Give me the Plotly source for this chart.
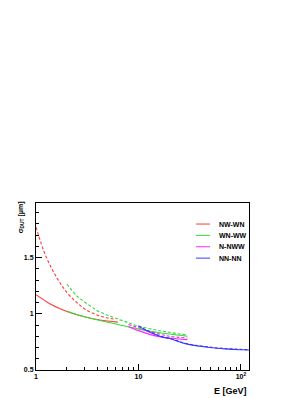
import plotly.graph_objects as go

# Data
nwwn_E = [1, 1.35, 1.7, 2, 2.7, 4.2, 6.3]
nwwn_solid = [1.17, 1.092, 1.046, 1.02, 0.983, 0.945, 0.926]
nwwn_dash_E = [1, 1.25, 1.6, 2, 2.5, 3.14, 3.93, 4.9, 6]
nwwn_dash = [1.77, 1.51, 1.32, 1.19, 1.10, 1.03, 0.99, 0.965, 0.95]

wnww_E = [2, 2.7, 4.2, 6.3, 10, 13, 20, 30]
wnww_solid = [1.025, 0.985, 0.94, 0.905, 0.865, 0.845, 0.82, 0.80]
wnww_dash_E = [2, 2.5, 3.14, 3.93, 4.9, 6, 8, 10, 15, 20, 30]
wnww_dash = [1.265, 1.16, 1.09, 1.03, 0.99, 0.96, 0.92, 0.89, 0.855, 0.835, 0.81]

nnww_E = [8, 10, 16, 20, 30]
nnww_solid = [0.885, 0.85, 0.795, 0.785, 0.77]
nnww_dash = [0.905, 0.875, 0.82, 0.80, 0.785]

nnnn_E = [10, 12, 17.5, 20, 30, 50, 70, 100, 120]
nnnn_solid = [0.89, 0.85, 0.79, 0.78, 0.73, 0.70, 0.688, 0.68, 0.678]
nnnn_dash = [0.893, 0.853, 0.793, 0.783, 0.733, 0.703, 0.691, 0.683, 0.681]

names = ["NW-WN", "WN-WW", "N-NWW", "NN-NN"]
colors = ["#ff3b3b", "#33dd33", "#ff22ff", "#3a3aff"]
xs_solid = [nwwn_E, wnww_E, nnww_E, nnnn_E]
xs_dash = [nwwn_dash_E, wnww_dash_E, nnww_E, nnnn_E]
solids = [nwwn_solid, wnww_solid, nnww_solid, nnnn_solid]
dashes = [nwwn_dash, wnww_dash, nnww_dash, nnnn_dash]

fig = go.Figure()
for n, c, xs, s, xd, d in zip(names, colors, xs_solid, solids, xs_dash, dashes):
    fig.add_trace(go.Scatter(x=xs, y=s, mode="lines", name=n, showlegend=False,
                             line=dict(color=c, width=1.1, shape="spline")))
    fig.add_trace(go.Scatter(x=xd, y=d, mode="lines", showlegend=False,
                             line=dict(color=c, width=1.1, dash="3px,2px", shape="spline")))

# Manual legend (compact, ROOT-style)
shapes, annotations = [], []
leg_top, leg_step = 0.874, 0.068
for i, (n, c) in enumerate(zip(names, colors)):
    yy = leg_top - i * leg_step
    shapes.append(dict(type="line", xref="paper", yref="paper",
                       x0=0.751, x1=0.817, y0=yy, y1=yy,
                       line=dict(color=c, width=1)))
    annotations.append(dict(text="<b>" + n + "</b>", xref="paper", yref="paper",
                            x=0.852, y=yy, xanchor="left", yanchor="middle",
                            showarrow=False,
                            font=dict(family="Liberation Sans", size=7, color="black")))

annotations += [
    dict(text="<b>σ<sub>DUT</sub> [μm]</b>", xref="paper", yref="paper",
         x=-0.072, y=1.02, xanchor="center", yanchor="top", textangle=-90,
         showarrow=False, font=dict(family="Liberation Sans", size=7)),
    dict(text="<b>E [GeV]</b>", xref="paper", yref="paper",
         x=1.0, y=0, xanchor="right", yanchor="top", yshift=-14,
         showarrow=False, font=dict(family="Liberation Sans", size=9)),
]

fig.update_layout(
    width=300, height=390,
    margin=dict(l=28, r=59, t=195, b=28),
    paper_bgcolor="white", plot_bgcolor="white",
    font=dict(family="Liberation Sans", size=7, color="black"),
    showlegend=False,
    shapes=shapes,
    annotations=annotations,
    xaxis=dict(type="log", range=[0, 2.079], showgrid=False, zeroline=False, automargin=False,
               showline=True, linecolor="black", linewidth=1, mirror=True,
               ticks="inside", ticklen=6, tickcolor="black",
               tickvals=[1, 10, 100], ticktext=["<b>1</b>", "<b>10</b>", "<b>10<sup>2</sup></b>"],
               tickfont=dict(family="Liberation Sans", size=7),
               minor=dict(ticks="inside", ticklen=3, tickcolor="black",
                          tickvals=[2, 3, 4, 5, 6, 7, 8, 9, 20, 30, 40, 50, 60, 70, 80, 90])),
    yaxis=dict(range=[0.5, 1.985], showgrid=False, zeroline=False, automargin=False,
               showline=True, linecolor="black", linewidth=1, mirror=True,
               ticks="inside", ticklen=6, tickcolor="black",
               tickvals=[0.5, 1, 1.5], ticktext=["<b>0.5</b>", "<b>1</b>", "<b>1.5</b>"],
               tickfont=dict(family="Liberation Sans", size=7),
               minor=dict(ticks="inside", ticklen=3, tickcolor="black", dtick=0.1)),
)
fig.write_html("out.html")
